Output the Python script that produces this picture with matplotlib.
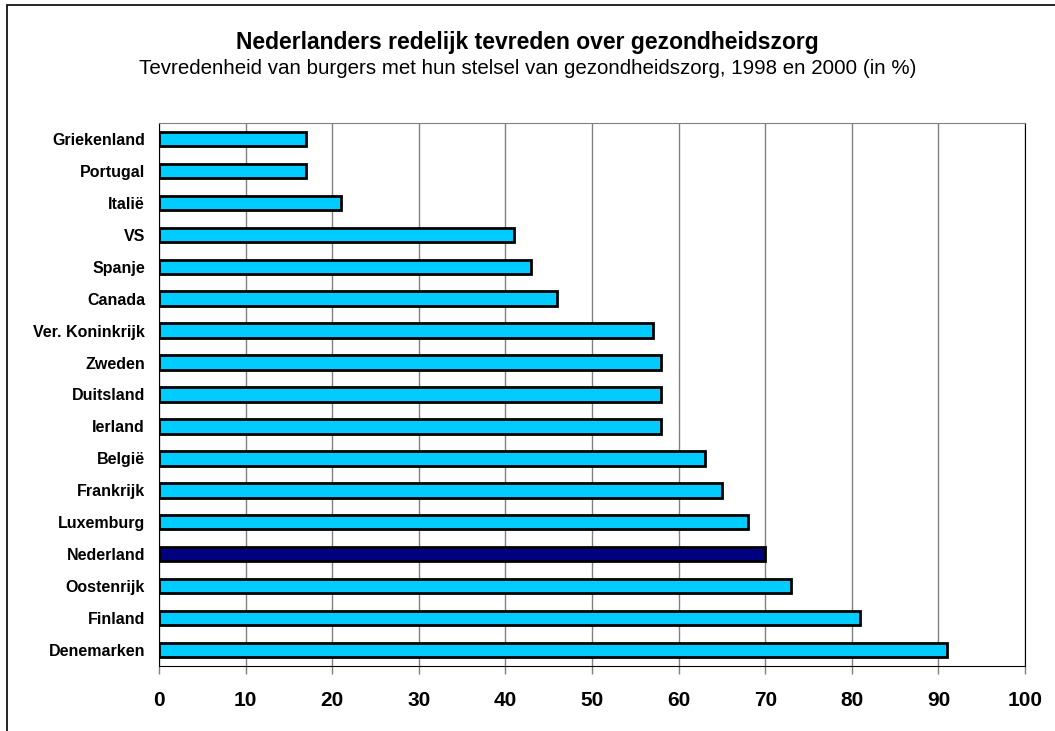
import matplotlib
matplotlib.use("Agg")
import matplotlib.pyplot as plt
from matplotlib.patches import Rectangle

COUNTRIES = ["Griekenland", "Portugal", "Italië", "VS", "Spanje", "Canada",
             "Ver. Koninkrijk", "Zweden", "Duitsland", "Ierland", "België",
             "Frankrijk", "Luxemburg", "Nederland", "Oostenrijk", "Finland",
             "Denemarken"]
VALUES = [17, 17, 21, 41, 43, 46, 57, 58, 58, 58, 63, 65, 68, 70, 73, 81, 91]
HIGHLIGHT = "Nederland"
XTICKS = list(range(0, 101, 10))

CYAN = "#00CCFF"
NAVY = "#000080"

plt.rcParams["font.family"] = ["Liberation Sans", "DejaVu Sans"]

fig = plt.figure(figsize=(10.55, 7.31), dpi=100)
ax = fig.add_axes([159 / 1055, 65 / 731, 866 / 1055, 543 / 731])

colors = [NAVY if c == HIGHLIGHT else CYAN for c in COUNTRIES]
ax.barh(range(len(COUNTRIES)), VALUES, height=0.45, color=colors,
        edgecolor="black", linewidth=2, zorder=3)

ax.set_ylim(len(COUNTRIES) - 0.5, -0.5)
ax.set_xlim(0, 100)
ax.set_yticks(range(len(COUNTRIES)))
ax.set_yticklabels(COUNTRIES, fontsize=11.5, fontweight="bold")
ax.set_xticks(XTICKS)
ax.set_xticklabels([str(t) for t in XTICKS], fontsize=15, fontweight="bold")
ax.tick_params(axis="y", length=0, pad=10)
ax.tick_params(axis="x", length=6, width=1, color="#808080", pad=12)

ax.grid(axis="x", color="#808080", linewidth=1, zorder=0)
ax.spines["top"].set_color("#808080")
ax.spines["right"].set_color("black")
for s in ["left", "bottom"]:
    ax.spines[s].set_color("black")

fig.text(0.5, 1 - 42 / 731, "Nederlanders redelijk tevreden over gezondheidszorg",
         ha="center", va="center", fontsize=16.5, fontweight="bold")
fig.text(0.5, 1 - 68 / 731,
         "Tevredenheid van burgers met hun stelsel van gezondheidszorg, 1998 en 2000 (in %)",
         ha="center", va="center", fontsize=14.8)

# outer frame
fig.patches.append(Rectangle((7 / 1055, -0.01), 1.0, 1 - 5 / 731 + 0.01,
                             transform=fig.transFigure, fill=False,
                             edgecolor="black", linewidth=1.2))

fig.savefig("out.png", dpi=100)
